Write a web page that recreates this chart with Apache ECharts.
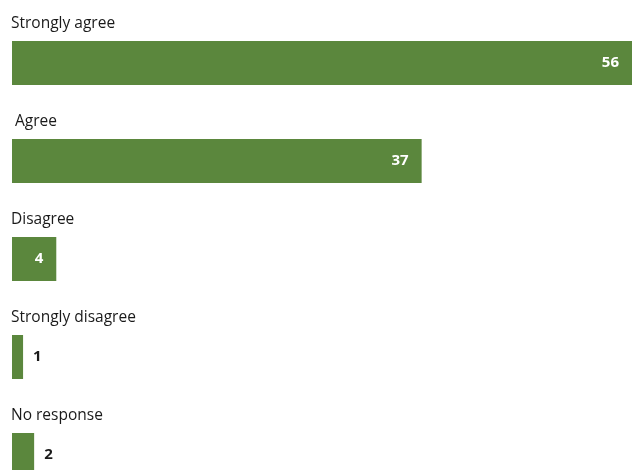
<!DOCTYPE html>
<html>
<head>
<meta charset="utf-8">
<style>
  html, body { margin: 0; padding: 0; background: #ffffff; }
  #chart { width: 636px; height: 470px; }
</style>
<script src="https://cdn.jsdelivr.net/npm/echarts@6/dist/echarts.min.js"></script>
</head>
<body>
<div id="chart"></div>
<script>
// Survey responses, in display order (top to bottom)
const categories = ['Strongly agree', ' Agree', 'Disagree', 'Strongly disagree', 'No response'];
const responses = [56, 37, 4, 1, 2];

const barColor = '#5b873d';
const textColor = '#1a1a1a';
const fontFamily = '"Open Sans", "Noto Sans", sans-serif';

// Short bars can't hold their number, so those labels sit just past the bar end in dark text.
const seriesData = responses.map(v => {
  const inside = v >= 4;
  return {
    value: v,
    label: inside
      ? { position: 'insideRight', distance: 13, color: '#ffffff' }
      : { position: 'right', distance: 10, color: textColor }
  };
});

const chart = echarts.init(document.getElementById('chart'), null, { renderer: 'canvas' });
chart.setOption({
  animation: false,
  grid: { left: 12, right: 4, top: 14, height: 490, containLabel: false, outerBoundsMode: 'none' },
  xAxis: {
    type: 'value',
    min: 0,
    max: 56,
    show: false
  },
  yAxis: {
    type: 'category',
    inverse: true,
    data: categories,
    axisLine: { show: false },
    axisTick: { show: false },
    splitLine: { show: false },
    axisLabel: {
      inside: true,
      interval: 0,
      showMinLabel: true,
      showMaxLabel: true,
      margin: -1,
      align: 'left',
      verticalAlign: 'middle',
      // an empty second line pushes the category name up above its bar
      formatter: name => name + '\n ',
      lineHeight: 79,
      color: textColor,
      fontSize: 15.5,
      fontFamily: fontFamily
    }
  },
  series: [{
    type: 'bar',
    data: seriesData,
    barWidth: 44,
    itemStyle: { color: barColor },
    label: {
      show: true,
      fontSize: 15,
      fontWeight: 'bold',
      fontFamily: fontFamily
    }
  }]
});
</script>
</body>
</html>
